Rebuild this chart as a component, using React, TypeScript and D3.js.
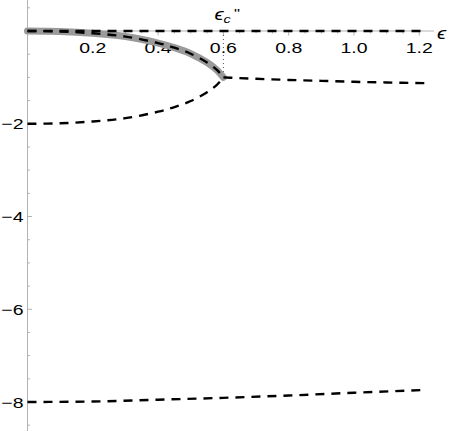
import React from "react";
import * as d3 from "d3";

const W = 449, H = 431;

// Readings from the reference (epsilon, value)
const zeroLineEps = [0, 1.225];
const zeroLineVal = [0, 0];

const upperEps = [0, 0.1, 0.2, 0.3, 0.4, 0.45, 0.5, 0.55, 0.58, 0.6];
const upperVal = [0, -0.01, -0.05, -0.12, -0.26, -0.36, -0.49, -0.68, -0.84, -1.0];

const lowerEps = [0, 0.1, 0.2, 0.3, 0.4, 0.45, 0.5, 0.55, 0.58, 0.6];
const lowerVal = [-2, -1.99, -1.95, -1.88, -1.74, -1.64, -1.51, -1.32, -1.16, -1.0];

const rightEps = [0.6, 0.7, 0.8, 0.9, 1.0, 1.1, 1.22];
const rightVal = [-1.0, -1.03, -1.055, -1.075, -1.095, -1.11, -1.125];

const bottomEps = [0, 0.2, 0.4, 0.6, 0.8, 1.0, 1.22];
const bottomVal = [-8, -7.99, -7.95, -7.91, -7.86, -7.8, -7.74];

const xTicks = [0.2, 0.4, 0.6, 0.8, 1.0, 1.2];
const yTicks = [-2, -4, -6, -8];
const criticalEps = 0.6;
const criticalVal = -1;

const zip = (a: number[], b: number[]) => a.map((v, i) => [v, b[i]] as [number, number]);

const SX = 1.3;
const font = "'Liberation Sans', Arial, sans-serif";

function Label({ x, y, anchor, children, size = 15, italic = false }: any) {
  return (
    <g transform={`translate(${x},${y}) scale(${SX},1)`}>
      <text x={0} y={0} textAnchor={anchor} fontFamily={font} fontSize={size} fontStyle={italic ? "italic" : "normal"} fill="#000">
        {children}
      </text>
    </g>
  );
}

export default function App() {
  const x = d3.scaleLinear().domain([0, 1]).range([27.5, 27.5 + 326.5]);
  const y = d3.scaleLinear().domain([0, -8]).range([31, 402]);
  const line = d3.line<[number, number]>().x(d => x(d[0])).y(d => y(d[1])).curve(d3.curveMonotoneX);
  const lineY = d3.line<[number, number]>().x(d => x(d[0])).y(d => y(d[1])).curve(d3.curveCatmullRom);

  const xMinor = d3.range(0.05, 1.3, 0.05).filter(v => x(v) < 434);
  const yMinor = d3.range(0.5, -8.75, -0.5).filter(v => y(v) >= 0 && y(v) <= H);

  const dash = { fill: "none", stroke: "#000", strokeWidth: 2.4, strokeDasharray: "9,7" };

  return (
    <svg width={W} height={H} style={{ position: "absolute", left: 0, top: 0 }}>
      <rect width={W} height={H} fill="#fff" />
      {/* axes */}
      <line x1={x(0)} x2={434} y1={y(0)} y2={y(0)} stroke="#b3b3b3" strokeWidth={1} />
      <line x1={x(0)} x2={x(0)} y1={0} y2={H} stroke="#b3b3b3" strokeWidth={1} />
      {xMinor.map((v, i) => {
        const major = xTicks.some(t => Math.abs(t - v) < 1e-6);
        return <line key={"xm" + i} x1={x(v)} x2={x(v)} y1={y(0)} y2={y(0) + (major ? 4.5 : 2.5)} stroke="#b3b3b3" />;
      })}
      {yMinor.map((v, i) => {
        const major = Math.abs(Math.round(v / 2) * 2 - v) < 1e-6 && v !== 0;
        return <line key={"ym" + i} x1={x(0)} x2={x(0) + (major ? 4.5 : 2.5)} y1={y(v)} y2={y(v)} stroke="#b3b3b3" />;
      })}
      {xTicks.map(t => (
        <Label key={"xt" + t} x={x(t)} y={y(0) + 22} anchor="middle">{t.toFixed(1)}</Label>
      ))}
      {yTicks.map(t => (
        <Label key={"yt" + t} x={x(0) - 4} y={y(t) + 5.5} anchor="end">{"\u2212" + Math.abs(t)}</Label>
      ))}
      {/* critical dotted line */}
      <line x1={x(criticalEps)} x2={x(criticalEps)} y1={y(0)} y2={y(criticalVal)} stroke="#555" strokeWidth={1} strokeDasharray="1,3" />
      {/* gray thick branch */}
      <path d={lineY(zip(upperEps, upperVal)) || ""} fill="none" stroke="#9a9a9a" strokeWidth={7} strokeLinecap="round" />
      {/* dashed curves */}
      <path d={line(zip(zeroLineEps, zeroLineVal)) || ""} {...dash} />
      <path d={lineY(zip(upperEps, upperVal)) || ""} {...dash} />
      <path d={lineY(zip(lowerEps, lowerVal)) || ""} {...dash} />
      <path d={line(zip(rightEps, rightVal)) || ""} {...dash} />
      <path d={line(zip(bottomEps, bottomVal)) || ""} {...dash} />
      {/* labels */}
      <g transform={`translate(${x(criticalEps) - 9},20) scale(${SX},1)`}>
        <text x={0} y={0} fontFamily={font} fontSize={16} fontStyle="italic" fill="#000">
          ϵ<tspan fontSize={11} dy={3}>c</tspan><tspan dy={-5} dx={2.5} fontStyle="normal" fontSize={13}>"</tspan>
        </text>
      </g>
      <g transform={`translate(437,39) scale(${SX},1)`}>
        <text x={0} y={0} fontFamily={font} fontSize={16} fontStyle="italic" fill="#000">ϵ</text>
      </g>
    </svg>
  );
}
